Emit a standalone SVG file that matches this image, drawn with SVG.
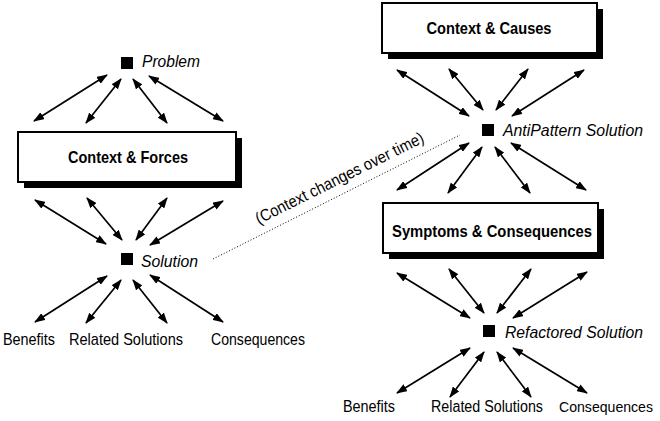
<svg xmlns="http://www.w3.org/2000/svg" width="660" height="421" viewBox="0 0 660 421">
<style>
.bg{fill:#fff}
.box{fill:#fff;stroke:#000;stroke-width:2}
.shadow{fill:#000}
.sq{fill:#000}
.boxlbl{font-family:"Liberation Sans",Arial,sans-serif;font-size:17px;font-weight:bold;text-anchor:middle;fill:#000}
.nodelbl{font-family:"Liberation Sans",Arial,sans-serif;font-size:16.5px;font-style:italic;fill:#000}
.lbl{font-family:"Liberation Sans",Arial,sans-serif;font-size:17px;fill:#000}
.lbl2{font-family:"Liberation Sans",Arial,sans-serif;font-size:16px;fill:#000}
.note{font-family:"Liberation Sans",Arial,sans-serif;font-size:16.5px;fill:#000;text-anchor:middle}
.arr{stroke:#000;stroke-width:1.7;fill:none;marker-start:url(#ah);marker-end:url(#ah)}
.dot{stroke:#000;stroke-width:1;stroke-dasharray:1 2;fill:none}
</style>
<defs>
<marker id="ah" markerUnits="userSpaceOnUse" markerWidth="11" markerHeight="8" viewBox="0 0 11 8" refX="10" refY="4" orient="auto-start-reverse">
<path d="M0,0 L11,4 L0,8 z" fill="#000"/>
</marker>
</defs>
<rect class="bg" x="0" y="0" width="660" height="421"/>

<g id="problem">
<rect class="sq" x="121" y="57" width="12" height="12"/>
<text class="nodelbl" x="142" y="67" textLength="58" lengthAdjust="spacingAndGlyphs">Problem</text>
</g>
<g id="context-forces">
<rect class="shadow" x="24" y="138" width="218" height="50"/>
<rect class="box" x="18" y="132" width="218" height="50"/>
<text class="boxlbl" x="128" y="163" textLength="120" lengthAdjust="spacingAndGlyphs">Context &amp; Forces</text>
</g>
<g id="solution">
<rect class="sq" x="121" y="253" width="12" height="12"/>
<text class="nodelbl" x="141" y="267" textLength="57" lengthAdjust="spacingAndGlyphs">Solution</text>
</g>
<g id="benefits-left"><text class="lbl" x="3" y="345" textLength="52" lengthAdjust="spacingAndGlyphs">Benefits</text></g>
<g id="related-left"><text class="lbl" x="69" y="345" textLength="114" lengthAdjust="spacingAndGlyphs">Related Solutions</text></g>
<g id="consequences-left"><text class="lbl" x="211" y="345" textLength="94" lengthAdjust="spacingAndGlyphs">Consequences</text></g>

<g id="context-causes">
<rect class="shadow" x="388" y="9" width="215" height="50"/>
<rect class="box" x="382" y="3" width="215" height="50"/>
<text class="boxlbl" x="489" y="34" textLength="125" lengthAdjust="spacingAndGlyphs">Context &amp; Causes</text>
</g>
<g id="antipattern">
<rect class="sq" x="482" y="124" width="12" height="12"/>
<text class="nodelbl" x="503" y="136" textLength="140" lengthAdjust="spacingAndGlyphs">AntiPattern Solution</text>
</g>
<g id="symptoms">
<rect class="shadow" x="389" y="209" width="215" height="50"/>
<rect class="box" x="383" y="203" width="215" height="50"/>
<text class="boxlbl" x="492" y="237" textLength="200" lengthAdjust="spacingAndGlyphs">Symptoms &amp; Consequences</text>
</g>
<g id="refactored">
<rect class="sq" x="483" y="325" width="12" height="12"/>
<text class="nodelbl" x="505" y="338" textLength="138" lengthAdjust="spacingAndGlyphs">Refactored Solution</text>
</g>
<g id="benefits-right"><text class="lbl2" x="343" y="412" textLength="52" lengthAdjust="spacingAndGlyphs">Benefits</text></g>
<g id="related-right"><text class="lbl2" x="431" y="412" textLength="112" lengthAdjust="spacingAndGlyphs">Related Solutions</text></g>
<g id="consequences-right"><text class="lbl2" x="559" y="412" style="font-size:15px" textLength="94" lengthAdjust="spacingAndGlyphs">Consequences</text></g>

<g id="connectors">
<line class="arr" x1="107" y1="75" x2="34" y2="121"/>
<line class="arr" x1="121" y1="79" x2="86" y2="123"/>
<line class="arr" x1="133" y1="79" x2="167" y2="123"/>
<line class="arr" x1="149" y1="76" x2="223" y2="121"/>
<line class="arr" x1="35" y1="200" x2="106" y2="244"/>
<line class="arr" x1="87" y1="198" x2="122" y2="240"/>
<line class="arr" x1="167" y1="198" x2="136" y2="240"/>
<line class="arr" x1="223" y1="201" x2="150" y2="245"/>
<line class="arr" x1="107" y1="276" x2="35" y2="322"/>
<line class="arr" x1="121" y1="280" x2="86" y2="323"/>
<line class="arr" x1="133" y1="280" x2="167" y2="323"/>
<line class="arr" x1="150" y1="275" x2="223" y2="322"/>

<line class="arr" x1="397" y1="70" x2="469" y2="116"/>
<line class="arr" x1="449" y1="69" x2="483" y2="110"/>
<line class="arr" x1="528" y1="69" x2="496" y2="110"/>
<line class="arr" x1="584" y1="70" x2="512" y2="116"/>
<line class="arr" x1="469" y1="143" x2="397" y2="190"/>
<line class="arr" x1="482" y1="147" x2="448" y2="193"/>
<line class="arr" x1="495" y1="147" x2="530" y2="193"/>
<line class="arr" x1="511" y1="143" x2="586" y2="190"/>
<line class="arr" x1="397" y1="273" x2="470" y2="318"/>
<line class="arr" x1="449" y1="269" x2="484" y2="313"/>
<line class="arr" x1="531" y1="269" x2="497" y2="313"/>
<line class="arr" x1="587" y1="272" x2="513" y2="318"/>
<line class="arr" x1="470" y1="348" x2="397" y2="393"/>
<line class="arr" x1="484" y1="352" x2="450" y2="397"/>
<line class="arr" x1="497" y1="352" x2="531" y2="397"/>
<line class="arr" x1="513" y1="348" x2="587" y2="393"/>

<line class="dot" x1="213" y1="259" x2="460" y2="135"/>
<text class="note" transform="translate(342,183) rotate(-26.5)" x="0" y="0" textLength="186" lengthAdjust="spacingAndGlyphs">(Context changes over time)</text>
</g>
</svg>
